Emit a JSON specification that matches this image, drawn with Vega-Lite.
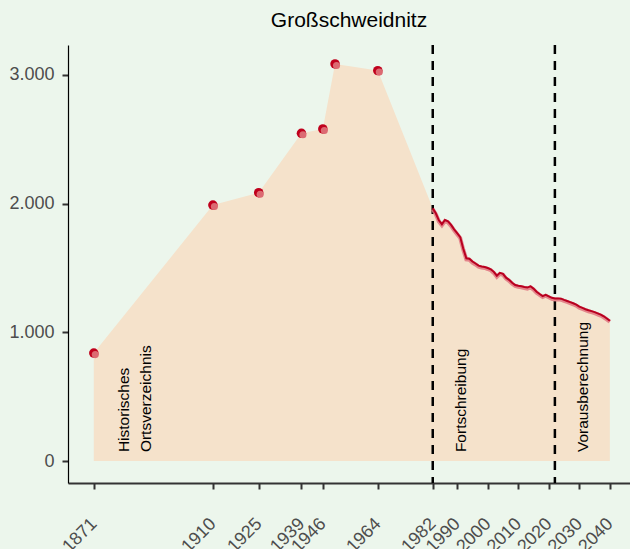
{
  "$schema": "https://vega.github.io/schema/vega-lite/v6.json",
  "autosize": {"type": "none"},
  "width": 562,
  "height": 438,
  "padding": {"left": 68, "top": 45, "right": 0, "bottom": 66},
  "background": "#ecf6ec",
  "title": {"text": "Großschweidnitz", "fontSize": 21, "font": "Liberation Sans", "fontWeight": "normal", "color": "#000000", "anchor": "middle", "offset": 13},
  "config": {
    "locale": {"number": {"decimal": ",", "thousands": ".", "grouping": [3], "currency": ["", " €"]}},
    "view": {"stroke": null},
    "axis": {"grid": false, "labelFont": "Liberation Sans", "labelFontSize": 18, "labelColor": "#4d4d4d", "tickColor": "#333333", "tickWidth": 2, "tickSize": 6, "title": null}
  },
  "datasets": {
    "pop": [
      {"year": 1871, "value": 839, "kind": "hist"},
      {"year": 1910, "value": 1989, "kind": "hist"},
      {"year": 1925, "value": 2085, "kind": "hist"},
      {"year": 1939, "value": 2546, "kind": "hist"},
      {"year": 1946, "value": 2580, "kind": "hist"},
      {"year": 1950, "value": 3085, "kind": "hist"},
      {"year": 1964, "value": 3033, "kind": "hist"},
      {"year": 1982, "value": 1964, "kind": "fort"},
      {"year": 1983, "value": 1925, "kind": "fort"},
      {"year": 1984, "value": 1870, "kind": "fort"},
      {"year": 1985, "value": 1840, "kind": "fort"},
      {"year": 1986, "value": 1873, "kind": "fort"},
      {"year": 1987, "value": 1862, "kind": "fort"},
      {"year": 1988, "value": 1835, "kind": "fort"},
      {"year": 1989, "value": 1800, "kind": "fort"},
      {"year": 1990, "value": 1770, "kind": "fort"},
      {"year": 1991, "value": 1740, "kind": "fort"},
      {"year": 1992, "value": 1650, "kind": "fort"},
      {"year": 1993, "value": 1575, "kind": "fort"},
      {"year": 1994, "value": 1572, "kind": "fort"},
      {"year": 1995, "value": 1550, "kind": "fort"},
      {"year": 1996, "value": 1535, "kind": "fort"},
      {"year": 1997, "value": 1518, "kind": "fort"},
      {"year": 1998, "value": 1512, "kind": "fort"},
      {"year": 1999, "value": 1508, "kind": "fort"},
      {"year": 2000, "value": 1500, "kind": "fort"},
      {"year": 2001, "value": 1490, "kind": "fort"},
      {"year": 2002, "value": 1470, "kind": "fort"},
      {"year": 2003, "value": 1440, "kind": "fort"},
      {"year": 2004, "value": 1462, "kind": "fort"},
      {"year": 2005, "value": 1455, "kind": "fort"},
      {"year": 2006, "value": 1425, "kind": "fort"},
      {"year": 2007, "value": 1408, "kind": "fort"},
      {"year": 2008, "value": 1385, "kind": "fort"},
      {"year": 2009, "value": 1368, "kind": "fort"},
      {"year": 2010, "value": 1362, "kind": "fort"},
      {"year": 2011, "value": 1358, "kind": "fort"},
      {"year": 2012, "value": 1352, "kind": "fort"},
      {"year": 2013, "value": 1348, "kind": "fort"},
      {"year": 2014, "value": 1358, "kind": "fort"},
      {"year": 2015, "value": 1340, "kind": "fort"},
      {"year": 2016, "value": 1316, "kind": "fort"},
      {"year": 2017, "value": 1298, "kind": "fort"},
      {"year": 2018, "value": 1282, "kind": "fort"},
      {"year": 2019, "value": 1292, "kind": "fort"},
      {"year": 2020, "value": 1280, "kind": "fort"},
      {"year": 2021, "value": 1268, "kind": "fort"},
      {"year": 2022, "value": 1264, "kind": "fort"},
      {"year": 2023, "value": 1264, "kind": "fort"},
      {"year": 2024, "value": 1262, "kind": "fort"},
      {"year": 2025, "value": 1252, "kind": "fort"},
      {"year": 2026, "value": 1244, "kind": "fort"},
      {"year": 2027, "value": 1235, "kind": "fort"},
      {"year": 2028, "value": 1226, "kind": "fort"},
      {"year": 2029, "value": 1215, "kind": "fort"},
      {"year": 2030, "value": 1200, "kind": "fort"},
      {"year": 2031, "value": 1190, "kind": "fort"},
      {"year": 2032, "value": 1180, "kind": "fort"},
      {"year": 2033, "value": 1172, "kind": "fort"},
      {"year": 2034, "value": 1165, "kind": "fort"},
      {"year": 2035, "value": 1157, "kind": "fort"},
      {"year": 2036, "value": 1148, "kind": "fort"},
      {"year": 2037, "value": 1138, "kind": "fort"},
      {"year": 2038, "value": 1125, "kind": "fort"},
      {"year": 2039, "value": 1108, "kind": "fort"},
      {"year": 2040, "value": 1090, "kind": "fort"}
    ],
    "breaks": [{"year": 1982}, {"year": 2022}],
    "labels": [
      {"year": 1881, "label": "Historisches\nOrtsverzeichnis"},
      {"year": 1991.2, "label": "Fortschreibung"},
      {"year": 2031.2, "label": "Vorausberechnung"}
    ]
  },
  "layer": [
    {
      "data": {"name": "pop"},
      "mark": {"type": "area", "color": "#f5e2cb", "opacity": 1},
      "encoding": {
        "x": {"field": "year", "type": "quantitative", "scale": {"domain": [1862.55, 2046.6], "nice": false, "zero": false},
          "axis": {"values": [1871, 1910, 1925, 1939, 1946, 1964, 1982, 1990, 2000, 2010, 2020, 2030, 2040], "format": "d", "labelAngle": -45, "labelAlign": "right", "labelBaseline": "middle", "labelPadding": 32, "domainColor": "#333333", "domainWidth": 2, "labelOverlap": false, "labelFlush": false, "labelBound": false}},
        "y": {"field": "value", "type": "quantitative", "scale": {"domain": [-170, 3232], "nice": false},
          "axis": {"values": [0, 1000, 2000, 3000], "format": ",d", "labelPadding": 8, "domainColor": "#000000", "domainWidth": 1.2, "labelFlush": false}},
        "y2": {"datum": 0}
      }
    },
    {
      "data": {"name": "breaks"},
      "mark": {"type": "rule", "color": "#000000", "strokeWidth": 2.5, "strokeDash": [9, 7]},
      "encoding": {"x": {"field": "year", "type": "quantitative"}}
    },
    {
      "data": {"name": "pop"},
      "transform": [{"filter": "datum.kind === 'fort'"}],
      "mark": {"type": "line", "color": "#e07480", "strokeWidth": 4, "opacity": 0.85, "yOffset": 1},
      "encoding": {"x": {"field": "year", "type": "quantitative"}, "y": {"field": "value", "type": "quantitative"}}
    },
    {
      "data": {"name": "pop"},
      "transform": [{"filter": "datum.kind === 'fort'"}],
      "mark": {"type": "line", "color": "#b80020", "strokeWidth": 2},
      "encoding": {"x": {"field": "year", "type": "quantitative"}, "y": {"field": "value", "type": "quantitative"}}
    },
    {
      "data": {"name": "pop"},
      "transform": [{"filter": "datum.kind === 'hist'"}],
      "mark": {"type": "point", "filled": true, "color": "#c0001c", "size": 90, "opacity": 1},
      "encoding": {"x": {"field": "year", "type": "quantitative"}, "y": {"field": "value", "type": "quantitative"}}
    },
    {
      "data": {"name": "pop"},
      "transform": [{"filter": "datum.kind === 'hist'"}],
      "mark": {"type": "point", "filled": true, "color": "#dc6a72", "size": 50, "opacity": 1, "xOffset": 1.5, "yOffset": 1.5},
      "encoding": {"x": {"field": "year", "type": "quantitative"}, "y": {"field": "value", "type": "quantitative"}}
    },
    {
      "data": {"name": "labels"},
      "mark": {"type": "text", "angle": 270, "align": "left", "baseline": "middle", "lineBreak": "\n", "lineHeight": 22, "font": "Liberation Sans", "fontSize": 15.5, "color": "#000000"},
      "encoding": {"x": {"field": "year", "type": "quantitative"}, "y": {"datum": 70}, "text": {"field": "label"}}
    }
  ]
}
